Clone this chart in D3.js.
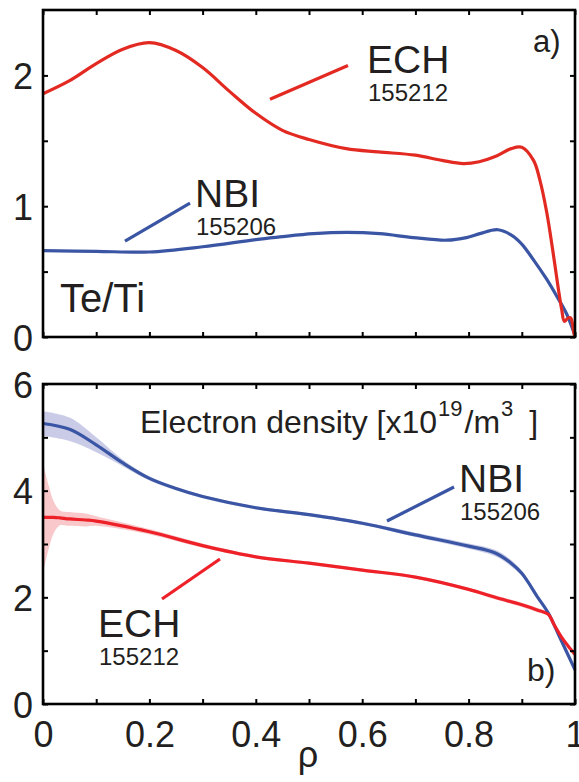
<!DOCTYPE html>
<html>
  <head>
    <meta charset="utf-8">
    <title>Te/Ti and electron density</title>
    <style>
      body { margin: 0; background: #fff; }
      svg text { font-family: "Liberation Sans", Arial, Helvetica, sans-serif; fill: #231f20; }
    </style>
  </head>
  <body>
    <div id="container"></div>
    <script src="https://cdn.jsdelivr.net/npm/d3@7"></script>
    <script>
      // ---- data ----
      // panel a) Te/Ti
      var echTeTiRho = [0, 0.05, 0.1, 0.15, 0.2, 0.25, 0.3, 0.35, 0.4, 0.45, 0.5, 0.57, 0.63, 0.7, 0.75, 0.79, 0.82, 0.85, 0.88, 0.9, 0.922, 0.934, 0.947, 0.959, 0.969, 0.975, 0.98, 0.987, 0.992, 0.998, 1];
      var echTeTi    = [1.86, 1.96, 2.09, 2.2, 2.25, 2.19, 2.06, 1.88, 1.71, 1.58, 1.51, 1.44, 1.415, 1.39, 1.35, 1.326, 1.34, 1.38, 1.44, 1.45, 1.35, 1.2, 0.95, 0.64, 0.36, 0.21, 0.12, 0.145, 0.145, 0.03, 0.0];
      var nbiTeTiRho = [0, 0.1, 0.2, 0.3, 0.4, 0.445, 0.508, 0.571, 0.633, 0.696, 0.759, 0.796, 0.821, 0.855, 0.884, 0.9, 0.922, 0.947, 0.966, 0.985, 1];
      var nbiTeTi    = [0.66, 0.655, 0.65, 0.69, 0.745, 0.765, 0.79, 0.80, 0.79, 0.76, 0.74, 0.76, 0.79, 0.82, 0.77, 0.71, 0.59, 0.44, 0.31, 0.17, 0.01];

      // panel b) electron density, value and half width of the shaded band
      var nbiNeRho = [0, 0.05, 0.1, 0.15, 0.2, 0.25, 0.3, 0.4, 0.5, 0.6, 0.7, 0.8, 0.85, 0.88, 0.9, 0.93, 0.95, 0.97, 1];
      var nbiNe    = [5.26, 5.15, 4.86, 4.52, 4.23, 4.04, 3.89, 3.68, 3.55, 3.39, 3.17, 2.96, 2.83, 2.64, 2.45, 2.0, 1.7, 1.28, 0.64];
      var nbiNeErr = [0.23, 0.22, 0.14, 0.06, 0.04, 0.03, 0.03, 0.03, 0.03, 0.03, 0.04, 0.05, 0.06, 0.06, 0.05, 0.04, 0.03, 0.02, 0.02];
      var echNeRho = [0, 0.01, 0.02, 0.032, 0.05, 0.08, 0.1, 0.2, 0.3, 0.4, 0.5, 0.6, 0.7, 0.8, 0.85, 0.9, 0.93, 0.95, 0.96, 0.975, 0.99, 1];
      var echNe    = [3.5, 3.5, 3.5, 3.49, 3.47, 3.45, 3.43, 3.23, 2.97, 2.76, 2.64, 2.51, 2.38, 2.15, 2.0, 1.86, 1.76, 1.68, 1.5, 1.25, 1.05, 0.93];
      var echNeErr = [1.03, 0.62, 0.3, 0.14, 0.13, 0.12, 0.09, 0.05, 0.04, 0.03, 0.03, 0.03, 0.03, 0.03, 0.04, 0.04, 0.04, 0.03, 0.02, 0.02, 0.02, 0.02];

      // ticks
      var xTicks = [0, 0.1, 0.2, 0.3, 0.4, 0.5, 0.6, 0.7, 0.8, 0.9, 1];
      var xTickLabels = ["0", "", "0.2", "", "0.4", "", "0.6", "", "0.8", "", "1"];
      var teTiTicks = [0, 0.5, 1, 1.5, 2];
      var teTiTickLabels = ["0", "", "1", "", "2"];
      var neTicks = [0, 1, 2, 3, 4, 5, 6];
      var neTickLabels = ["0", "", "2", "", "4", "", "6"];

      // ---- layout ----
      var W = 579, H = 782;
      var left = 43, right = 575;
      var red = "#e32a22", red2 = "#ee2028", blue = "#3a55a4";

      var svg = d3.select("#container").append("svg")
        .attr("width", W).attr("height", H);

      var x = d3.scaleLinear().domain([0, 1]).range([left, right]);
      var yA = d3.scaleLinear().domain([0, 2.5]).range([337, 10]);
      var yB = d3.scaleLinear().domain([0, 6]).range([704, 384]);
      var smooth = d3.curveCatmullRom.alpha(0.5);

      function zip(r, v) { return r.map(function(d, i) { return [d, v[i]]; }); }

      function frame(y, yTicks, yLabels, showX) {
        var g = svg.append("g");
        var y0 = y.range()[0], y1 = y.range()[1];
        var fmtX = function(d) { return showX ? xTickLabels[xTicks.indexOf(d)] : ""; };
        var fmtY = function(d) { return yLabels[yTicks.indexOf(d)]; };

        var bx = g.append("g").attr("transform", "translate(0," + y0 + ")")
          .call(d3.axisBottom(x).tickValues(xTicks).tickSize(-5).tickPadding(14).tickFormat(fmtX));
        bx.selectAll("text").attr("font-size", 36).attr("y", 43).attr("dy", null);
        g.append("g").attr("transform", "translate(0," + y1 + ")")
          .call(d3.axisTop(x).tickValues(xTicks).tickSize(-5).tickFormat(""));
        var ly = g.append("g").attr("transform", "translate(" + left + ",0)")
          .call(d3.axisLeft(y).tickValues(yTicks).tickSize(-5).tickPadding(10).tickFormat(fmtY));
        ly.selectAll("text").attr("font-size", 36).attr("dy", "0.37em");
        g.append("g").attr("transform", "translate(" + right + ",0)")
          .call(d3.axisRight(y).tickValues(yTicks).tickSize(-5).tickFormat(""));

        g.selectAll(".domain").remove();
        g.selectAll(".tick line").attr("stroke", "#000").attr("stroke-width", 2);
        g.selectAll(".tick text").attr("fill", "#231f20");
        g.append("rect")
          .attr("x", left).attr("y", y1)
          .attr("width", right - left).attr("height", y0 - y1)
          .attr("fill", "none").attr("stroke", "#000").attr("stroke-width", 2.6);
      }

      function curve(y, pts, color) {
        var line = d3.line().x(function(d) { return x(d[0]); }).y(function(d) { return y(d[1]); })
          .curve(smooth);
        svg.append("path").datum(pts)
          .attr("d", line).attr("fill", "none")
          .attr("stroke", color).attr("stroke-width", 3.2)
          .attr("stroke-linejoin", "round");
      }

      function band(y, r, v, e, color) {
        var pts = r.map(function(d, i) { return [d, v[i] - e[i], v[i] + e[i]]; });
        var area = d3.area().x(function(d) { return x(d[0]); })
          .y0(function(d) { return y(d[1]); }).y1(function(d) { return y(d[2]); })
          .curve(smooth);
        svg.append("path").datum(pts).attr("d", area).attr("fill", color);
      }

      function leader(y, p, q, color) {
        svg.append("line")
          .attr("x1", x(p[0])).attr("y1", y(p[1]))
          .attr("x2", x(q[0])).attr("y2", y(q[1]))
          .attr("stroke", color).attr("stroke-width", 3.2);
      }

      function label(px, py, main, sub) {
        svg.append("text").attr("x", px).attr("y", py).attr("font-size", 39).text(main);
        svg.append("text").attr("x", px + 1).attr("y", py + 28).attr("font-size", 24).text(sub);
      }

      // ---- panel a ----
      curve(yA, zip(nbiTeTiRho, nbiTeTi), blue);
      curve(yA, zip(echTeTiRho, echTeTi), red);
      frame(yA, teTiTicks, teTiTickLabels, false);

      leader(yA, [0.4267, 1.817], [0.5733, 2.076], red);
      label(367, 73, "ECH", "155212");
      leader(yA, [0.1541, 0.733], [0.2763, 1.023], blue);
      label(195, 207, "NBI", "155206");
      svg.append("text").attr("x", 60).attr("y", 312).attr("font-size", 40).text("Te/Ti");
      svg.append("text").attr("x", 533).attr("y", 52).attr("font-size", 31).text("a)");

      // ---- panel b ----
      band(yB, nbiNeRho, nbiNe, nbiNeErr, "#c9cbe7");
      band(yB, echNeRho, echNe, echNeErr, "#f8c8ca");
      curve(yB, zip(nbiNeRho, nbiNe), blue);
      curve(yB, zip(echNeRho, echNe), red2);
      frame(yB, neTicks, neTickLabels, true);

      leader(yB, [0.2237, 1.969], [0.3327, 2.719], red2);
      label(98, 637, "ECH", "155212");
      leader(yB, [0.6466, 3.431], [0.7726, 4.069], blue);
      label(459, 492, "NBI", "155206");

      var t = svg.append("text").attr("x", 140).attr("y", 433).attr("font-size", 32);
      t.append("tspan").text("Electron density [x10");
      t.append("tspan").attr("dx", 1).attr("dy", -17).attr("font-size", 22).text("19");
      t.append("tspan").attr("dx", 2).attr("dy", 17).text("/m");
      t.append("tspan").attr("dx", 1).attr("dy", -17).attr("font-size", 22).text("3");
      t.append("tspan").attr("dx", 7).attr("dy", 17).text("\u00a0]");
      svg.append("text").attr("x", 527).attr("y", 681).attr("font-size", 32).text("b)");

      svg.append("text").attr("x", 308).attr("y", 767).attr("font-size", 36)
        .attr("text-anchor", "middle").text("\u03c1");
    </script>
  </body>
</html>
